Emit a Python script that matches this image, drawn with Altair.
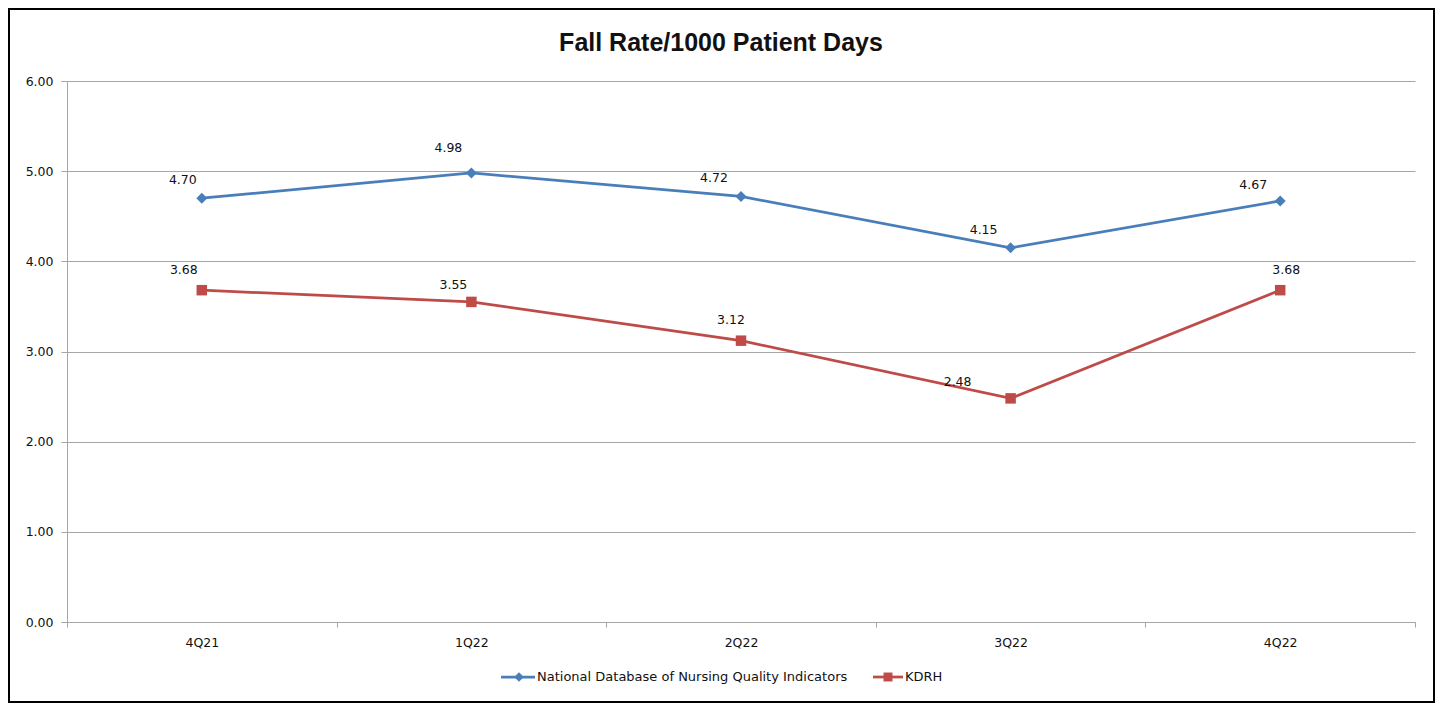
import altair as alt
import pandas as pd

# ---- data ----
quarters = ["4Q21", "1Q22", "2Q22", "3Q22", "4Q22"]
ndnqi = [4.70, 4.98, 4.72, 4.15, 4.67]
kdrh = [3.68, 3.55, 3.12, 2.48, 3.68]
series_names = ["National Database of Nursing Quality Indicators", "KDRH"]
title_text = "Fall Rate/1000 Patient Days"
y_ticks = [0, 1, 2, 3, 4, 5, 6]

rows = []
for s, vals in zip(series_names, [ndnqi, kdrh]):
    for q, v in zip(quarters, vals):
        rows.append({"quarter": q, "series": s, "value": v})
df = pd.DataFrame(rows)

# ---- styles ----
BLUE = "#4A7EBB"
RED = "#BE4B48"
GRID = "#a6a6a6"
TXT = "#111111"
FONT = "DejaVu Sans"
W, H = 1348, 541
PAD = {"left": 59, "top": 73, "right": 20, "bottom": 81}

# label offsets (dx, dy) per point, per series
label_offsets = [
    [(-19, -18), (-23, -25), (-27, -18), (-27, -18), (-27, -16)],
    [(-18, -20), (-18, -17), (-10, -21), (-53, -16), (6, -20)],
]

xenc = alt.X(
    "quarter:N",
    sort=quarters,
    scale=alt.Scale(domain=quarters, paddingInner=0, paddingOuter=0),
    axis=alt.Axis(
        title=None, labelAngle=0, tickBand="extent", grid=False,
        domainColor=GRID, tickColor=GRID, tickSize=5, labelPadding=9,
        labelFont=FONT, labelFontSize=12.5, labelColor=TXT,
    ),
)
yenc = alt.Y(
    "value:Q",
    scale=alt.Scale(domain=[0, 6], nice=False),
    axis=alt.Axis(
        title=None, values=y_ticks, format=".2f", grid=True, gridColor=GRID,
        domainColor=GRID, tickColor=GRID, tickSize=6, labelPadding=8,
        labelFont=FONT, labelFontSize=12.5, labelColor=TXT,
    ),
)
color = alt.Color("series:N", scale=alt.Scale(domain=series_names, range=[BLUE, RED]), legend=None)

base = alt.Chart(df).encode(x=xenc, y=yenc, color=color)
lines = base.mark_line(strokeWidth=2.75)

layers = [lines]
shapes = ["diamond", "square"]
sizes = [120, 110]
for s, shp, sz in zip(series_names, shapes, sizes):
    layers.append(
        base.transform_filter(alt.datum.series == s).mark_point(
            shape=shp, size=sz, filled=True, opacity=1
        )
    )

for si, s in enumerate(series_names):
    for qi, q in enumerate(quarters):
        dx, dy = label_offsets[si][qi]
        layers.append(
            alt.Chart(df)
            .transform_filter((alt.datum.series == s) & (alt.datum.quarter == q))
            .mark_text(dx=dx, dy=dy, font=FONT, fontSize=12.5, color=TXT,
                       align="center", baseline="middle")
            .encode(x=xenc, y=yenc, text=alt.Text("value:Q", format=".2f"))
        )

# title
tdf = pd.DataFrame({"t": [title_text]})
layers.append(
    alt.Chart(tdf).mark_text(font="Liberation Sans", fontSize=25, fontWeight="bold",
                             color=TXT, align="center", baseline="alphabetic")
    .encode(x=alt.value(654), y=alt.value(-30), text="t:N")
)

# border
bdf = pd.DataFrame({"a": [0]})
layers.append(
    alt.Chart(bdf).mark_rect(fill="transparent", stroke="black", strokeWidth=2)
    .encode(x=alt.value(-58), x2=alt.value(W + PAD["right"] - 1),
            y=alt.value(-72), y2=alt.value(H + PAD["bottom"] - 1))
)

# legend (manual)
leg = [
    {"name": series_names[0], "col": BLUE, "shape": "diamond", "size": 90,
     "x0": 434, "x1": 468, "xm": 452, "xt": 470},
    {"name": series_names[1], "col": RED, "shape": "square", "size": 80,
     "x0": 806, "x1": 836, "xm": 821, "xt": 838},
]
LY = 596
for e in leg:
    ldf = pd.DataFrame({"t": [e["name"]]})
    layers.append(
        alt.Chart(ldf).mark_rule(color=e["col"], strokeWidth=2.75)
        .encode(x=alt.value(e["x0"]), x2=alt.value(e["x1"]), y=alt.value(LY))
    )
    layers.append(
        alt.Chart(ldf).mark_point(shape=e["shape"], size=e["size"], filled=True,
                                  opacity=1, color=e["col"])
        .encode(x=alt.value(e["xm"]), y=alt.value(LY))
    )
    layers.append(
        alt.Chart(ldf).mark_text(font=FONT, fontSize=13, color=TXT, align="left",
                                 baseline="middle")
        .encode(x=alt.value(e["xt"]), y=alt.value(LY), text="t:N")
    )

chart = (
    alt.layer(*layers)
    .properties(width=W, height=H, padding=PAD,
                autosize=alt.AutoSizeParams(type="none"), background="white")
    .configure_view(stroke=None)
)

chart.save("out.html", embed_options={"renderer": "svg", "actions": False})
